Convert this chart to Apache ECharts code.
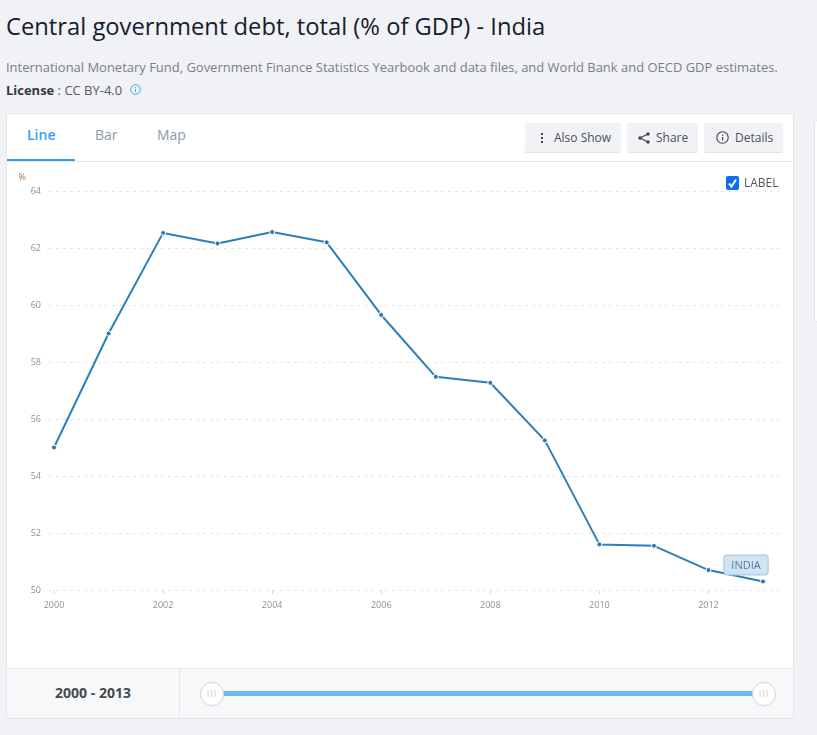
<!DOCTYPE html>
<html><head><meta charset="utf-8">
<script src="https://cdn.jsdelivr.net/npm/echarts@6/dist/echarts.min.js"></script>
<style>
html,body{margin:0;padding:0;background:#f0f2f6;width:817px;height:735px;overflow:hidden;font-family:"Open Sans",sans-serif}
.abs{position:absolute;white-space:nowrap}
#card{position:absolute;left:6px;top:113px;width:786px;height:604px;background:#fff;border:1px solid #e3e6ea}
#side{position:absolute;left:814px;top:120px;width:10px;height:200px;background:#fff;border:1px solid #e3e6ea;border-radius:3px}
.btn{position:absolute;top:123px;height:30px;background:#f0f2f5;border-bottom:1px solid #e2e4e8;font-size:12px;color:#4c5258;line-height:29px;border-radius:2px;box-sizing:border-box}
#chart{position:absolute;left:7px;top:162px;width:786px;height:506px}
#foot{position:absolute;left:7px;top:668px;width:786px;height:50px;background:#f7f8fa;border-top:1px solid #e3e6ea;box-sizing:border-box}
.handle{position:absolute;top:682px;width:22px;height:22px;border:1px solid #d0d6dc;border-radius:50%;background:#fff;color:#c4c9ce;font-size:9px;text-align:center;line-height:21px;letter-spacing:1px}
</style></head><body>
<div class="abs" style="left:6px;top:10px;font-size:23.76px;color:#16202a;line-height:32px">Central government debt, total (% of GDP) - India</div>
<div class="abs" style="left:6px;top:58px;font-size:12.98px;color:#7b7f85;line-height:18px">International Monetary Fund, Government Finance Statistics Yearbook and data files, and World Bank and OECD GDP estimates.</div>
<div class="abs" style="left:6px;top:81px;font-size:12.98px;color:#555a60;line-height:18px"><b style="color:#333a40">License</b> : CC BY-4.0</div>
<svg class="abs" style="left:129px;top:83px" width="13" height="13" viewBox="0 0 13 13"><circle cx="6.5" cy="6.5" r="4.8" fill="none" stroke="#4a9fee"/><rect x="6" y="6" width="1" height="3" fill="#4a9fee"/><rect x="6" y="4" width="1" height="1" fill="#4a9fee"/></svg>
<div id="side"></div>
<div id="card"></div>
<div class="abs" style="left:7px;top:161px;width:786px;height:1px;background:#e3e6ea"></div>
<div class="abs" style="left:7px;top:159px;width:68px;height:2px;background:#2f9ff0"></div>
<div class="abs" style="left:27px;top:125px;font-size:14px;font-weight:600;color:#3a9df0;line-height:20px">Line</div>
<div class="abs" style="left:95px;top:125px;font-size:14px;color:#8c98a2;line-height:20px">Bar</div>
<div class="abs" style="left:157px;top:125px;font-size:14px;color:#8c98a2;line-height:20px">Map</div>
<div class="btn" style="left:525px;width:96px;padding-left:29px">Also Show</div>
<div class="btn" style="left:627px;width:71px;padding-left:29px">Share</div>
<div class="btn" style="left:704px;width:79px;padding-left:31px">Details</div>
<svg class="abs" style="left:535px;top:131px" width="14" height="14"><rect x="6" y="2" width="2" height="2" fill="#444"/><rect x="6" y="6" width="2" height="2" fill="#444"/><rect x="6" y="10" width="2" height="2" fill="#444"/></svg>
<svg class="abs" style="left:637px;top:131px" width="14" height="14"><path d="M11 3 3 7 11 11" fill="none" stroke="#444" stroke-width="1.2"/><circle cx="11" cy="3" r="1.7" fill="#444"/><circle cx="3" cy="7" r="1.7" fill="#444"/><circle cx="11" cy="11" r="1.7" fill="#444"/></svg>
<svg class="abs" style="left:715px;top:130px" width="15" height="15"><circle cx="7.5" cy="7.5" r="5.7" fill="none" stroke="#444" stroke-width="1.1"/><rect x="7" y="7" width="1.2" height="3.6" fill="#444"/><rect x="7" y="4.6" width="1.2" height="1.2" fill="#444"/></svg>
<div id="chart"></div>
<svg class="abs" style="left:726px;top:176px" width="13" height="14"><rect width="13" height="14" rx="2" fill="#0b6ef2"/><path d="M3 7.5 5.5 10.5 10 3.5" fill="none" stroke="#fff" stroke-width="2"/></svg>
<div class="abs" style="left:744px;top:174px;font-size:12px;color:#555a60;line-height:17px">LABEL</div>
<div id="foot"></div>
<div class="abs" style="left:179px;top:669px;width:1px;height:49px;background:#e3e6ea"></div>
<div class="abs" style="left:7px;top:683px;width:172px;text-align:center;font-size:14px;font-weight:700;color:#444a50;line-height:20px">2000 - 2013</div>
<div class="abs" style="left:222px;top:691px;width:534px;height:5px;background:#6abcee"></div>
<div class="handle" style="left:200px">III</div>
<div class="handle" style="left:752px">III</div>
<script>
var years=[2000,2001,2002,2003,2004,2005,2006,2007,2008,2009,2010,2011,2012,2013];
var debt=[55.0,59.0,62.53,62.16,62.56,62.2,59.65,57.48,57.27,55.25,51.6,51.55,50.7,50.3];
var yTicks=[50,52,54,56,58,60,62,64];
var xTicks=[2000,2002,2004,2006,2008,2010,2012];
var seriesName='INDIA';
var unit='%';
var pxPerYear=(763-54)/13;
var gridLeft=42, gridRight=783; // page px
var c=echarts.init(document.getElementById('chart'));
c.setOption({
 animation:false,
 textStyle:{fontFamily:'"Open Sans",sans-serif'},
 grid:{left:gridLeft,right:793-gridRight,top:191-162,height:399,containLabel:false},
 xAxis:{type:'value',min:2000-(54-7-gridLeft)/pxPerYear,max:2013+(gridRight-763)/pxPerYear,
  splitLine:{show:false},axisLine:{show:false},
  axisTick:{show:true,customValues:xTicks,length:4,lineStyle:{color:'#d8d8d8',width:1}},
  axisLabel:{customValues:xTicks,color:'#8f8f8f',fontSize:9,margin:11,formatter:function(v){return String(v)},hideOverlap:false}},
 yAxis:{type:'value',min:50,max:64,interval:2,
  name:unit,nameLocation:'end',nameGap:9,nameTextStyle:{color:'#a8744a',fontSize:9,align:'right',padding:[0,23,0,0]},
  axisLine:{show:false},axisTick:{show:false},
  axisLabel:{color:'#8f8f8f',fontSize:9,margin:8,customValues:yTicks,padding:[2,0,0,0]},
  splitLine:{show:true,lineStyle:{color:'#e6e6e6',type:[3,4],width:1}}},
 series:[{type:'line',name:seriesName,data:years.map(function(y,i){
   var d={value:[y,debt[i]]};
   if(i===years.length-1){d.label={show:true,formatter:seriesName,position:'top',offset:[-17,1],
     backgroundColor:'rgba(208,226,240,0.95)',borderColor:'#a3c8e2',borderWidth:1,borderRadius:3,padding:[5,7,3,7],color:'#4f7ba8',fontSize:11};}
   return d;}),
  symbol:'circle',symbolSize:5,showSymbol:true,showAllSymbols:true,clip:false,
  itemStyle:{color:'#2879b5',borderColor:'#fff',borderWidth:1},
  lineStyle:{color:'#2d7fb8',width:2}}]
});
</script>
</body></html>
